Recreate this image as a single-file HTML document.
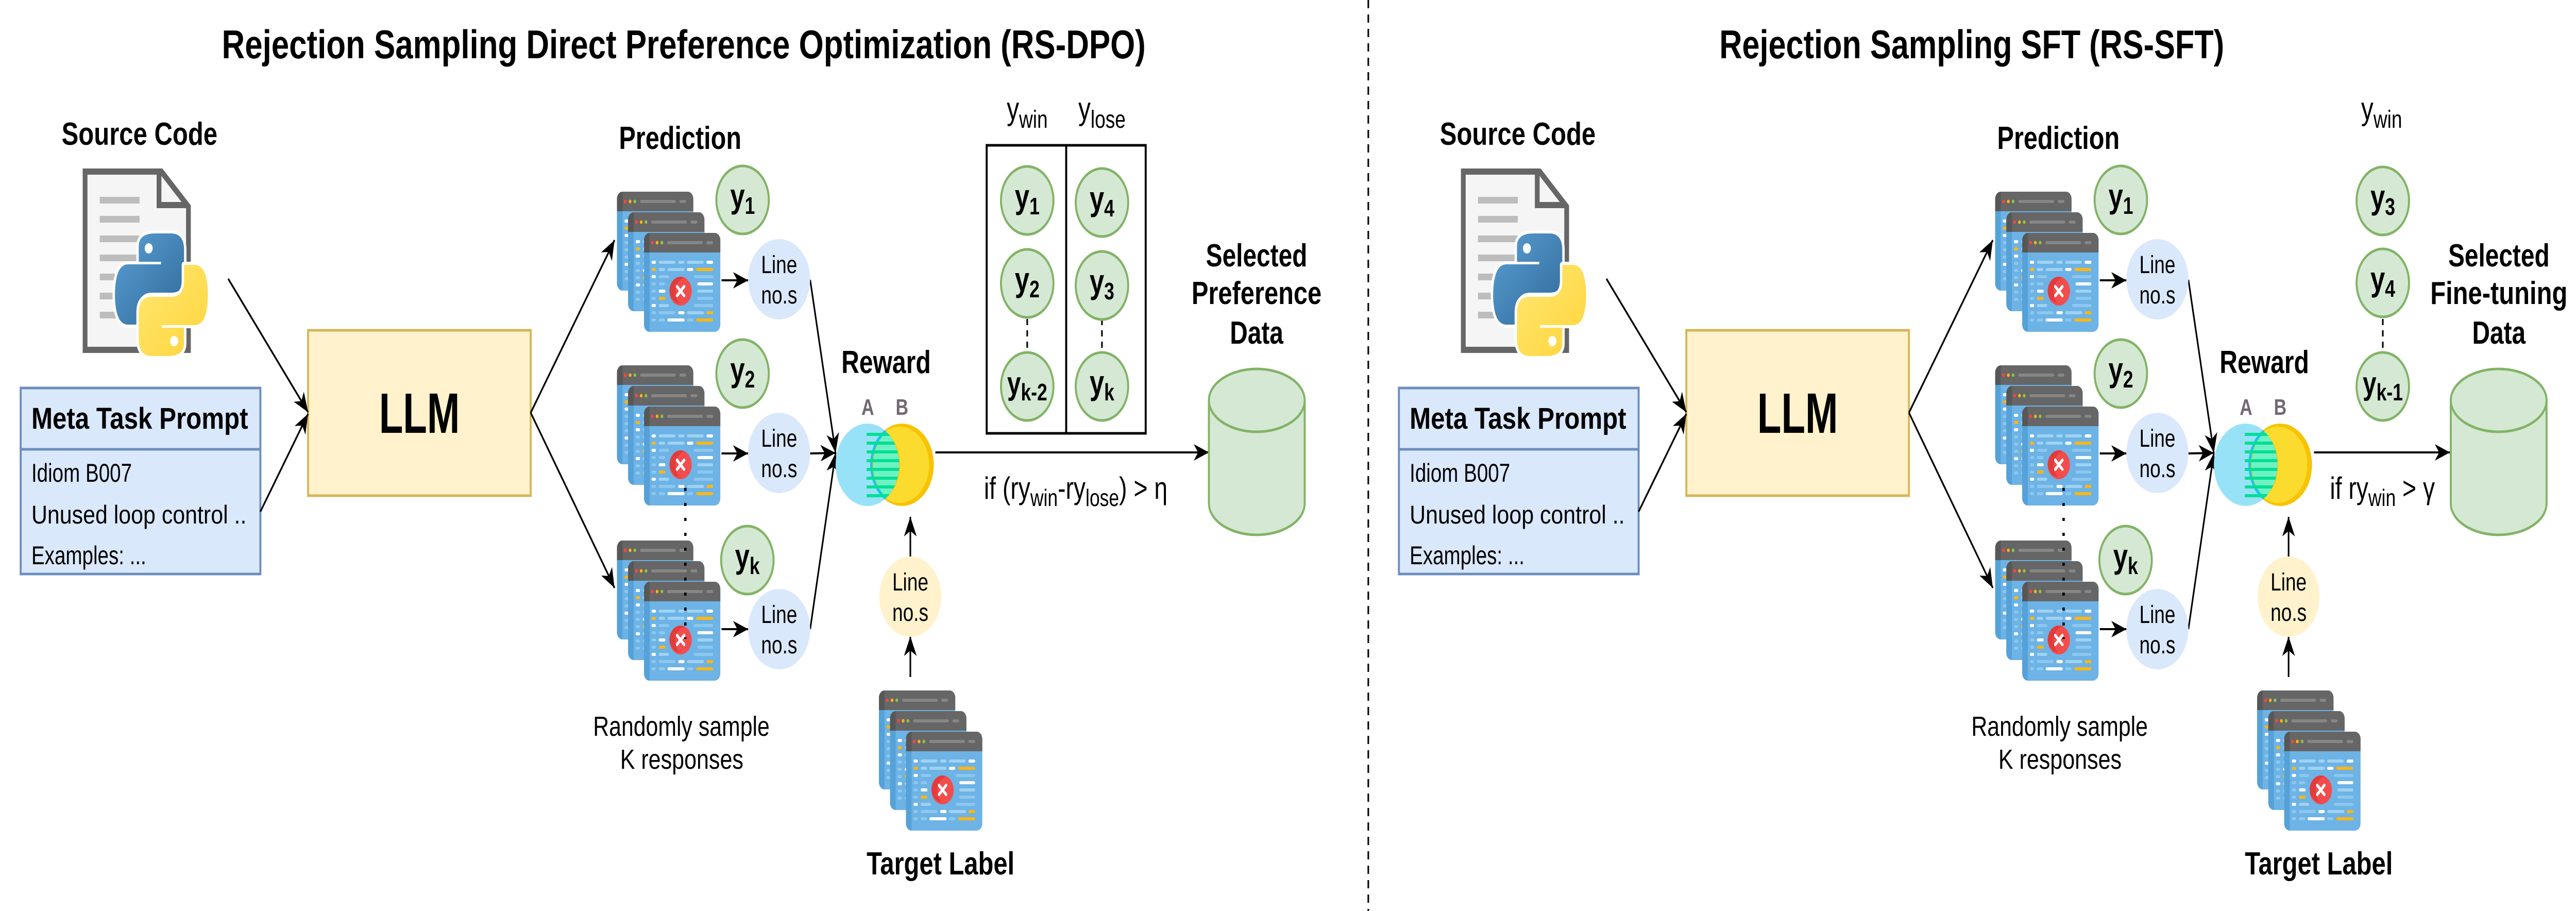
<!DOCTYPE html>
<html><head><meta charset="utf-8">
<meta name="viewport" content="width=6480, initial-scale=1">
<style>
html,body{margin:0;padding:0;background:#fff;overflow:hidden;width:100%;height:100%;}
svg{display:block;position:fixed;left:0;top:0;width:100vw;height:100vh;}
text{font-family:"Liberation Sans",Arial,sans-serif;fill:#000;}
.b{font-weight:bold;}
</style></head>
<body>
<svg viewBox="0 0 6480 1768" preserveAspectRatio="none" xmlns="http://www.w3.org/2000/svg">
<defs>
  <marker id="ar" viewBox="0 0 10 10" refX="10" refY="5" markerWidth="38" markerHeight="38" markerUnits="userSpaceOnUse" orient="auto">
    <path d="M0,0.8 L10,5 L0,9.2 L2.8,5 Z" fill="#000"/>
  </marker>
  <g id="win">
    <rect x="0" y="0" width="192" height="192" rx="14" fill="#6db3e5"/>
    <path d="M0,38 h14 v154 h0 a14,14 0 0 1 -14,-14 Z" fill="#55a1d8"/>
    <path d="M0,14 a14,14 0 0 1 14,-14 h164 a14,14 0 0 1 14,14 v24 h-192 Z" fill="#666"/>
    <path d="M0,14 a14,14 0 0 1 14,-14 v38 h-14 Z" fill="#575757"/>
    <circle cx="21" cy="19" r="3.5" fill="#f44"/>
    <circle cx="33" cy="19" r="3.5" fill="#f9b215"/>
    <circle cx="45" cy="19" r="3.5" fill="#8bc34a"/>
    <rect x="58" y="16" width="90" height="6" rx="3" fill="#868686"/>
    <rect x="157" y="16" width="17" height="6" rx="3" fill="#868686"/>
    <rect x="19" y="54" width="11" height="6" rx="3" fill="#fff"/>
    <rect x="37" y="54" width="42" height="6" rx="3" fill="#9fd2f3"/>
    <rect x="86" y="54" width="16" height="6" rx="3" fill="#9fd2f3"/>
    <rect x="108" y="54" width="42" height="6" rx="3" fill="#9fd2f3"/>
    <rect x="157" y="54" width="17" height="6" rx="3" fill="#fff"/>
    <rect x="19" y="68" width="11" height="6" rx="3" fill="#fbb614"/>
    <rect x="37" y="68" width="16" height="6" rx="3" fill="#9fd2f3"/>
    <rect x="59" y="68" width="43" height="6" rx="3" fill="#9fd2f3"/>
    <rect x="108" y="68" width="16" height="6" rx="3" fill="#fff"/>
    <rect x="131" y="68" width="43" height="6" rx="3" fill="#fbb614"/>
    <rect x="19" y="82" width="11" height="6" rx="3" fill="#fff"/>
    <rect x="37" y="82" width="26" height="6" rx="3" fill="#8cc7ef"/>
    <rect x="125" y="82" width="49" height="6" rx="3" fill="#8cc7ef"/>
    <rect x="19" y="96" width="11" height="6" rx="3" fill="#8cc7ef"/>
    <rect x="37" y="96" width="16" height="6" rx="3" fill="#8cc7ef"/>
    <rect x="134" y="96" width="40" height="6" rx="3" fill="#fff"/>
    <rect x="19" y="110" width="11" height="6" rx="3" fill="#8cc7ef"/>
    <rect x="37" y="110" width="17" height="6" rx="3" fill="#fff"/>
    <rect x="134" y="110" width="40" height="6" rx="3" fill="#9fd2f3"/>
    <rect x="19" y="124" width="11" height="6" rx="3" fill="#8cc7ef"/>
    <rect x="37" y="124" width="17" height="6" rx="3" fill="#fbb614"/>
    <rect x="134" y="124" width="40" height="6" rx="3" fill="#8cc7ef"/>
    <rect x="19" y="138" width="11" height="6" rx="3" fill="#fff"/>
    <rect x="37" y="138" width="26" height="6" rx="3" fill="#9fd2f3"/>
    <rect x="125" y="138" width="49" height="6" rx="3" fill="#8cc7ef"/>
    <rect x="19" y="152" width="11" height="6" rx="3" fill="#8cc7ef"/>
    <rect x="37" y="152" width="42" height="6" rx="3" fill="#8cc7ef"/>
    <rect x="86" y="152" width="16" height="6" rx="3" fill="#fff"/>
    <rect x="108" y="152" width="43" height="6" rx="3" fill="#9fd2f3"/>
    <rect x="157" y="152" width="17" height="6" rx="3" fill="#fbb614"/>
    <rect x="19" y="166" width="11" height="6" rx="3" fill="#8cc7ef"/>
    <rect x="37" y="166" width="16" height="6" rx="3" fill="#8cc7ef"/>
    <rect x="59" y="166" width="43" height="6" rx="3" fill="#fff"/>
    <rect x="108" y="166" width="16" height="6" rx="3" fill="#8cc7ef"/>
    <rect x="131" y="166" width="43" height="6" rx="3" fill="#fbb614"/>
    <circle cx="92" cy="113" r="28" fill="#f34c4c"/>
    <path d="M64,113 a28,28 0 0 1 38,-26 a28,28 0 0 0 -12,50 a28,28 0 0 1 -26,-24 Z" fill="#e23b3b"/>
    <path d="M83,104 L101,122 M101,104 L83,122" stroke="#fff" stroke-width="6" stroke-linecap="round"/>
  </g>
  <g id="stack">
    <use href="#win" x="0" y="0"/>
    <use href="#win" x="28" y="40"/>
    <use href="#win" x="68" y="80"/>
  </g>
  <clipPath id="cb"><circle cx="2182" cy="902" r="80"/></clipPath>
  <clipPath id="cb2"><circle cx="2187" cy="902" r="77"/></clipPath>
  <linearGradient id="gb" x1="0" y1="0" x2="1" y2="1"><stop offset="0" stop-color="#5a9fd4"/><stop offset="1" stop-color="#306998"/></linearGradient>
  <linearGradient id="gy" x1="0" y1="0" x2="1" y2="1"><stop offset="0" stop-color="#ffe873"/><stop offset="1" stop-color="#ffd43b"/></linearGradient>
  <g id="shared">
    <path d="M214,333 L406,333 L474,401 L474,679 L214,679 Z" fill="#f5f5f5" stroke="#666" stroke-width="12"/>
    <path d="M400,336 L400,398 L470,398" fill="none" stroke="#666" stroke-width="12"/>
    <g fill="#bdbdbd">
      <rect x="251" y="382" width="100" height="13"/><rect x="251" y="419" width="100" height="13"/>
      <rect x="251" y="457" width="100" height="13"/><rect x="251" y="494" width="100" height="13"/>
      <rect x="251" y="531" width="100" height="13"/><rect x="251" y="568" width="100" height="13"/>
      <rect x="251" y="605" width="100" height="13"/>
    </g>
    <g stroke="#fff" stroke-width="12" paint-order="stroke" stroke-linejoin="round">
      <path d="M349,478 Q349,453 390,453 L430,453 Q463,453 463,485 L463,537 Q463,568 432,568 L382,568 Q349,568 349,600 L349,630 L322,630 Q290,630 289,572 Q290,513 322,513 L405,513 L405,508 L349,508 Z" fill="url(#gb)"/>
      <path d="M463,666 Q463,691 422,691 L382,691 Q349,691 349,659 L349,607 Q349,576 380,576 L430,576 Q463,576 463,544 L463,514 L490,514 Q522,514 523,572 Q522,631 490,631 L407,631 L407,636 L463,636 Z" fill="url(#gy)"/>
    </g>
    <circle cx="374" cy="482" r="10" fill="#fff"/>
    <circle cx="438" cy="662" r="10" fill="#fff"/>
    <rect x="52" y="753" width="603" height="361" fill="#dae8fc" stroke="#6c8ebf" stroke-width="5"/>
    <line x1="52" y1="872" x2="655" y2="872" stroke="#6c8ebf" stroke-width="5"/>
    <rect x="775" y="641" width="560" height="321" fill="#fff2cc" stroke="#d6b656" stroke-width="5"/>
    <g stroke="#000" stroke-width="4" fill="none" marker-end="url(#ar)">
      <line x1="574" y1="541" x2="775" y2="800"/>
      <line x1="655" y1="993" x2="775" y2="803"/>
      <line x1="1335" y1="801" x2="1546" y2="466"/>
      <line x1="1335" y1="801" x2="1546" y2="1141"/>
      <line x1="1815" y1="544" x2="1882" y2="544"/>
      <line x1="1815" y1="880" x2="1882" y2="880"/>
      <line x1="1815" y1="1221" x2="1882" y2="1221"/>
      <line x1="2038" y1="543" x2="2102" y2="879"/>
      <line x1="2038" y1="880" x2="2102" y2="879"/>
      <line x1="2038" y1="1221" x2="2102" y2="879"/>
      <line x1="2290" y1="1314" x2="2290" y2="1235"/>
      <line x1="2290" y1="1080" x2="2290" y2="1003"/>
    </g>
    <use href="#stack" x="1552" y="372"/>
    <use href="#stack" x="1552" y="709"/>
    <use href="#stack" x="1552" y="1049"/>
    <use href="#stack" x="2211" y="1340"/>
    <line x1="1724" y1="947" x2="1724" y2="1240" stroke="#000" stroke-width="6" stroke-dasharray="6 23"/>
    <g fill="#d5e8d4" stroke="#82b366" stroke-width="5">
      <circle cx="1868" cy="388" r="66"/>
      <circle cx="1868" cy="725" r="66"/>
      <circle cx="1880" cy="1087" r="66"/>
    </g>
    <g fill="#dae8fc">
      <circle cx="1960" cy="542" r="78"/>
      <circle cx="1960" cy="879" r="78"/>
      <circle cx="1960" cy="1221" r="78"/>
    </g>
    <circle cx="2290" cy="1158" r="78" fill="#fff2cc"/>
    <circle cx="2182" cy="902" r="80" fill="#98e2f7"/>
    <circle cx="2269" cy="902" r="80" fill="#f8c300"/>
    <circle cx="2263" cy="902" r="74" fill="#fbdc2e"/>
    <g clip-path="url(#cb)"><circle cx="2269" cy="902" r="80" fill="#12c6f2"/></g>
    <g clip-path="url(#cb2)"><circle cx="2269" cy="902" r="74" fill="#f7c200"/></g>
    <g clip-path="url(#cb2)"><g clip-path="url(#cb)"><circle cx="2276" cy="902" r="79" fill="#6ff2c3"/>
      <g fill="#00df95"><rect x="2180" y="840" width="100" height="6"/><rect x="2180" y="857" width="100" height="6"/><rect x="2180" y="874" width="100" height="6"/><rect x="2180" y="891" width="100" height="6"/><rect x="2180" y="908" width="100" height="6"/><rect x="2180" y="925" width="100" height="6"/><rect x="2180" y="942" width="100" height="6"/><rect x="2180" y="959" width="100" height="6"/></g></g></g>
  </g>
  <g id="cyl">
    <path d="M0,61 A120.5,61 0 0 1 241,61 L241,261 A120.5,61 0 0 1 0,261 Z" fill="#d5e8d4" stroke="#82b366" stroke-width="5"/>
    <path d="M0,61 A120.5,61 0 0 0 241,61" fill="none" stroke="#82b366" stroke-width="5"/>
  </g>
</defs>

<line x1="3442" y1="0" x2="3442" y2="1768" stroke="#000" stroke-width="4" stroke-dasharray="16 12"/>

<use href="#shared"/>
<text class="b" x="1720" y="113" font-size="78" text-anchor="middle" textLength="2324" lengthAdjust="spacingAndGlyphs">Rejection Sampling Direct Preference Optimization (RS-DPO)</text>
<g>
<text class="b" x="351" y="281" font-size="62" text-anchor="middle" textLength="392" lengthAdjust="spacingAndGlyphs">Source Code</text>
<text class="b" x="79" y="832" font-size="58" textLength="545" lengthAdjust="spacingAndGlyphs">Meta Task Prompt</text>
<text x="79" y="935" font-size="50">Idiom B007</text>
<text x="79" y="1016" font-size="50" textLength="541" lengthAdjust="spacingAndGlyphs">Unused loop control ..</text>
<text x="79" y="1095" font-size="50">Examples: ...</text>
<text class="b" x="1055" y="840" font-size="110" text-anchor="middle" textLength="203" lengthAdjust="spacingAndGlyphs">LLM</text>
<text class="b" x="1711" y="289" font-size="62" text-anchor="middle" textLength="308" lengthAdjust="spacingAndGlyphs">Prediction</text>
<text class="b" x="1868" y="403" font-size="66" text-anchor="middle">y<tspan font-size="46" dy="12">1</tspan></text>
<text class="b" x="1868" y="740" font-size="66" text-anchor="middle">y<tspan font-size="46" dy="12">2</tspan></text>
<text class="b" x="1880" y="1102" font-size="66" text-anchor="middle">y<tspan font-size="46" dy="12">k</tspan></text>
<text x="1960" y="530" font-size="48" text-anchor="middle">Line</text><text x="1960" y="589" font-size="48" text-anchor="middle">no.s</text>
<text x="1960" y="867" font-size="48" text-anchor="middle">Line</text><text x="1960" y="926" font-size="48" text-anchor="middle">no.s</text>
<text x="1960" y="1209" font-size="48" text-anchor="middle">Line</text><text x="1960" y="1268" font-size="48" text-anchor="middle">no.s</text>
<text x="2290" y="1146" font-size="48" text-anchor="middle">Line</text><text x="2290" y="1205" font-size="48" text-anchor="middle">no.s</text>
<text class="b" x="2229" y="724" font-size="62" text-anchor="middle" textLength="225" lengthAdjust="spacingAndGlyphs">Reward</text>
<text class="b" x="2183" y="805" font-size="44" text-anchor="middle" style="fill:#716772">A</text>
<text class="b" x="2269" y="805" font-size="44" text-anchor="middle" style="fill:#716772">B</text>
<text x="1714" y="1428" font-size="54" text-anchor="middle" textLength="444" lengthAdjust="spacingAndGlyphs">Randomly sample</text>
<text x="1715" y="1492" font-size="54" text-anchor="middle" textLength="310" lengthAdjust="spacingAndGlyphs">K responses</text>
<text class="b" x="2366" y="1697" font-size="62" text-anchor="middle" textLength="372" lengthAdjust="spacingAndGlyphs">Target Label</text>
</g>
<rect x="2482" y="282" width="400" height="559" fill="none" stroke="#000" stroke-width="5"/>
<line x1="2682" y1="282" x2="2682" y2="841" stroke="#000" stroke-width="5"/>
<g stroke="#000" stroke-width="4" stroke-dasharray="12 10"><line x1="2584" y1="619" x2="2584" y2="684"/><line x1="2772" y1="619" x2="2772" y2="684"/></g>
<g fill="#d5e8d4" stroke="#82b366" stroke-width="5">
  <circle cx="2584" cy="389" r="66"/><circle cx="2584" cy="550" r="66"/><circle cx="2584" cy="750" r="66"/>
  <circle cx="2772" cy="393" r="66"/><circle cx="2772" cy="554" r="66"/><circle cx="2772" cy="750" r="66"/>
</g>
<text class="b" x="2584" y="404" font-size="66" text-anchor="middle">y<tspan font-size="46" dy="12">1</tspan></text>
<text class="b" x="2584" y="565" font-size="66" text-anchor="middle">y<tspan font-size="46" dy="12">2</tspan></text>
<text class="b" x="2584" y="765" font-size="62" text-anchor="middle">y<tspan font-size="46" dy="12">k-2</tspan></text>
<text class="b" x="2772" y="408" font-size="66" text-anchor="middle">y<tspan font-size="46" dy="12">4</tspan></text>
<text class="b" x="2772" y="569" font-size="66" text-anchor="middle">y<tspan font-size="46" dy="12">3</tspan></text>
<text class="b" x="2772" y="765" font-size="66" text-anchor="middle">y<tspan font-size="46" dy="12">k</tspan></text>
<text x="2584" y="232" font-size="62" text-anchor="middle">y<tspan font-size="48" dy="16">win</tspan></text>
<text x="2772" y="232" font-size="62" text-anchor="middle">y<tspan font-size="48" dy="16">lose</tspan></text>
<line x1="2353" y1="878" x2="3041" y2="878" stroke="#000" stroke-width="4" marker-end="url(#ar)"/>
<text x="2706" y="968" font-size="60" text-anchor="middle">if (ry<tspan font-size="46" dy="14">win</tspan><tspan dy="-14">-ry</tspan><tspan font-size="46" dy="14">lose</tspan><tspan dy="-14">) &gt; η</tspan></text>
<use href="#cyl" x="3041" y="716"/>
<text class="b" x="3161" y="517" font-size="62" text-anchor="middle">Selected</text>
<text class="b" x="3161" y="590" font-size="62" text-anchor="middle" textLength="327" lengthAdjust="spacingAndGlyphs">Preference</text>
<text class="b" x="3161" y="667" font-size="62" text-anchor="middle">Data</text>

<use href="#shared" x="3467"/>
<text class="b" x="4960" y="113" font-size="78" text-anchor="middle" textLength="1270" lengthAdjust="spacingAndGlyphs">Rejection Sampling SFT (RS-SFT)</text>
<g transform="translate(3467,0)">
<text class="b" x="351" y="281" font-size="62" text-anchor="middle" textLength="392" lengthAdjust="spacingAndGlyphs">Source Code</text>
<text class="b" x="79" y="832" font-size="58" textLength="545" lengthAdjust="spacingAndGlyphs">Meta Task Prompt</text>
<text x="79" y="935" font-size="50">Idiom B007</text>
<text x="79" y="1016" font-size="50" textLength="541" lengthAdjust="spacingAndGlyphs">Unused loop control ..</text>
<text x="79" y="1095" font-size="50">Examples: ...</text>
<text class="b" x="1055" y="840" font-size="110" text-anchor="middle" textLength="203" lengthAdjust="spacingAndGlyphs">LLM</text>
<text class="b" x="1711" y="289" font-size="62" text-anchor="middle" textLength="308" lengthAdjust="spacingAndGlyphs">Prediction</text>
<text class="b" x="1868" y="403" font-size="66" text-anchor="middle">y<tspan font-size="46" dy="12">1</tspan></text>
<text class="b" x="1868" y="740" font-size="66" text-anchor="middle">y<tspan font-size="46" dy="12">2</tspan></text>
<text class="b" x="1880" y="1102" font-size="66" text-anchor="middle">y<tspan font-size="46" dy="12">k</tspan></text>
<text x="1960" y="530" font-size="48" text-anchor="middle">Line</text><text x="1960" y="589" font-size="48" text-anchor="middle">no.s</text>
<text x="1960" y="867" font-size="48" text-anchor="middle">Line</text><text x="1960" y="926" font-size="48" text-anchor="middle">no.s</text>
<text x="1960" y="1209" font-size="48" text-anchor="middle">Line</text><text x="1960" y="1268" font-size="48" text-anchor="middle">no.s</text>
<text x="2290" y="1146" font-size="48" text-anchor="middle">Line</text><text x="2290" y="1205" font-size="48" text-anchor="middle">no.s</text>
<text class="b" x="2229" y="724" font-size="62" text-anchor="middle" textLength="225" lengthAdjust="spacingAndGlyphs">Reward</text>
<text class="b" x="2183" y="805" font-size="44" text-anchor="middle" style="fill:#716772">A</text>
<text class="b" x="2269" y="805" font-size="44" text-anchor="middle" style="fill:#716772">B</text>
<text x="1714" y="1428" font-size="54" text-anchor="middle" textLength="444" lengthAdjust="spacingAndGlyphs">Randomly sample</text>
<text x="1715" y="1492" font-size="54" text-anchor="middle" textLength="310" lengthAdjust="spacingAndGlyphs">K responses</text>
<text class="b" x="2366" y="1697" font-size="62" text-anchor="middle" textLength="372" lengthAdjust="spacingAndGlyphs">Target Label</text>
</g>
<line x1="5994" y1="619" x2="5994" y2="684" stroke="#000" stroke-width="4" stroke-dasharray="12 10"/>
<g fill="#d5e8d4" stroke="#82b366" stroke-width="5">
  <circle cx="5994" cy="390" r="66"/><circle cx="5994" cy="549" r="66"/><circle cx="5994" cy="750" r="66"/>
</g>
<text class="b" x="5994" y="405" font-size="66" text-anchor="middle">y<tspan font-size="46" dy="12">3</tspan></text>
<text class="b" x="5994" y="564" font-size="66" text-anchor="middle">y<tspan font-size="46" dy="12">4</tspan></text>
<text class="b" x="5994" y="765" font-size="62" text-anchor="middle">y<tspan font-size="46" dy="12">k-1</tspan></text>
<text x="5991" y="232" font-size="62" text-anchor="middle">y<tspan font-size="48" dy="16">win</tspan></text>
<line x1="5821" y1="878" x2="6163" y2="878" stroke="#000" stroke-width="4" marker-end="url(#ar)"/>
<text x="5993" y="968" font-size="60" text-anchor="middle">if ry<tspan font-size="46" dy="14">win</tspan><tspan dy="-14"> &gt; γ</tspan></text>
<use href="#cyl" x="6165" y="716"/>
<text class="b" x="6286" y="517" font-size="62" text-anchor="middle">Selected</text>
<text class="b" x="6286" y="590" font-size="62" text-anchor="middle" textLength="345" lengthAdjust="spacingAndGlyphs">Fine-tuning</text>
<text class="b" x="6286" y="667" font-size="62" text-anchor="middle">Data</text>
</svg>
</body></html>
